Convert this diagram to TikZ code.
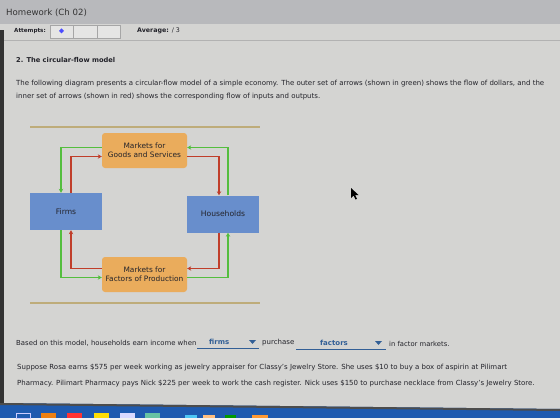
\documentclass[tikz,border=0pt]{standalone}
\usepackage{fontspec}
\setmainfont{DejaVu Sans}
\usetikzlibrary{positioning,arrows.meta}
\definecolor{pagegray}{RGB}{212,212,210}
\definecolor{headgray}{RGB}{184,185,188}
\definecolor{inkgray}{RGB}{35,35,42}
\definecolor{marketorange}{RGB}{234,172,92}
\definecolor{agentblue}{RGB}{104,142,204}
\definecolor{moneygreen}{RGB}{84,190,62}
\definecolor{goodsred}{RGB}{192,62,42}
\definecolor{rulertan}{RGB}{190,172,122}
\definecolor{linkblue}{RGB}{50,95,150}
\definecolor{barblue}{RGB}{30,90,175}
\tikzset{
  market/.style={fill=marketorange,rounded corners=3pt,minimum width=85pt,minimum height=35pt,align=center,text=inkgray,font=\fontsize{7.4}{9}\selectfont},
  agent/.style={fill=agentblue,minimum width=72pt,minimum height=37pt,text=inkgray,font=\fontsize{7.6}{9}\selectfont},
  money/.style={moneygreen,line width=1.6pt,->},
  goods/.style={goodsred,line width=1.6pt,->},
  txt/.style={anchor=west,inner sep=0pt,text=inkgray}
}
\begin{document}
\begin{tikzpicture}[x=1pt,y=-1pt,font=\fontsize{7}{8}\selectfont,>={Stealth[length=4pt,width=4.4pt]}]
\useasboundingbox (0,0) rectangle (560,420);
\fill[pagegray] (0,0) rectangle (560,420);
% header band
\fill[headgray] (0,0) rectangle (560,24);
\node[txt,font=\fontsize{8.6}{10}\selectfont,text=gray!40!black] (title) at (6,13) {Homework (Ch 02)};
\node[txt,font=\fontsize{5.6}{6}\bfseries] (attempts) at (14,31) {Attempts:};
\draw[gray!70,fill=pagegray!60!white] (50,25) rectangle (73,38) (73,25) rectangle (97,38) (97,25) rectangle (120,38);
\fill[blue!70] (61.5,28.5) -- (64,31) -- (61.5,33.5) -- (59,31) -- cycle;
\node[txt,font=\fontsize{6.3}{7}\bfseries] (average) at (137,31) {Average: \mdseries / 3};
\draw[gray!60] (0,40) -- (560,40);
% question
\node[txt,font=\fontsize{6.7}{8}\bfseries] (question) at (16,60) {2. The circular-flow model};
\node[txt] (intro1) at (16,84) {The following diagram presents a circular-flow model of a simple economy. The outer set of arrows (shown in green) shows the flow of dollars, and the};
\node[txt] (intro2) at (16,97) {inner set of arrows (shown in red) shows the corresponding flow of inputs and outputs.};
% diagram
\draw[rulertan,line width=1.6pt] (30,127) -- (260,127);
\draw[rulertan,line width=1.6pt] (30,303) -- (260,303);
\node[market] (goodsmkt) at (144.5,150.5) {Markets for\\Goods and Services};
\node[market] (factormkt) at (144.5,274.5) {Markets for\\Factors of Production};
\node[agent] (firms) at (66,211.5) {Firms};
\node[agent] (households) at (223,214) {Households};
\draw[money] ([yshift=3pt]goodsmkt.west) -| ([xshift=-5pt]firms.north);
\draw[goods] ([xshift=5pt]firms.north) |- ([yshift=-6pt]goodsmkt.west);
\draw[money] ([xshift=5pt]households.north) |- ([yshift=3pt]goodsmkt.east);
\draw[goods] ([yshift=-6pt]goodsmkt.east) -| ([xshift=-4pt]households.north);
\draw[goods] ([xshift=-4pt]households.south) |- ([yshift=6pt]factormkt.east);
\draw[money] ([yshift=-3pt]factormkt.east) -| ([xshift=5pt]households.south);
\draw[goods] ([yshift=6pt]factormkt.west) -| ([xshift=5pt]firms.south);
\draw[money] ([xshift=-5pt]firms.south) |- ([yshift=-3pt]factormkt.west);
% mouse pointer
\fill[black] (351,188) -- (351,198) -- (353.5,195.5) -- (355.5,199.5) -- (357,198.8) -- (355,195) -- (358.5,195) -- cycle;
% answer line
\node[txt,font=\fontsize{6.9}{8}\selectfont] (based) at (16,343) {Based on this model, households earn income when};
\draw[linkblue,line width=0.8pt] (197,348) -- (259,348);
\node[txt,text=linkblue,font=\fontsize{7}{8}\bfseries] (firmsans) at (209,342) {firms};
\fill[linkblue] (249,340) -- (256,340) -- (252.5,344) -- cycle;
\node[txt] (purchase) at (262,343) {purchase};
\draw[linkblue,line width=0.8pt] (296,349) -- (386,349);
\node[txt,text=linkblue,font=\fontsize{7}{8}\bfseries] (factorsans) at (320,343) {factors};
\fill[linkblue] (375,341) -- (382,341) -- (378.5,345) -- cycle;
\node[txt,font=\fontsize{6.8}{8}\selectfont] (factormarkets) at (389,344) {in factor markets.};
\node[txt] (suppose1) at (17,368) {Suppose Rosa earns \$575 per week working as jewelry appraiser for Classy's Jewelry Store. She uses \$10 to buy a box of aspirin at Pilimart};
\node[txt] (suppose2) at (17,384) {Pharmacy. Pilimart Pharmacy pays Nick \$225 per week to work the cash register. Nick uses \$150 to purchase necklace from Classy's Jewelry Store.};
% screen edge and taskbar
\fill[black!80] (0,30) rectangle (4,404);
\fill[barblue] (0,403) -- (560,409) -- (560,420) -- (0,420) -- cycle;
\fill[black!70] (0,403) -- (560,409) -- (560,411) -- (0,405) -- cycle;
\fill[white!90!gray] (0,418) rectangle (560,420);
\draw[white!80!blue] (16,413) rectangle (30,418);
\fill[orange!70!brown] (41,413) rectangle (56,418);
\fill[red!80] (67,413) rectangle (82,418);
\fill[yellow!80!orange] (94,413) rectangle (109,418);
\fill[white!85!blue] (120,413) rectangle (135,418);
\fill[green!60!blue!60] (145,413) rectangle (160,418);
\fill[cyan!70] (185,415) rectangle (197,418);
\fill[orange!50!white] (203,415) rectangle (215,418);
\fill[green!60!black] (225,415) rectangle (236,418);
\fill[orange!80] (252,415) rectangle (268,418);
\end{tikzpicture}
\end{document}
